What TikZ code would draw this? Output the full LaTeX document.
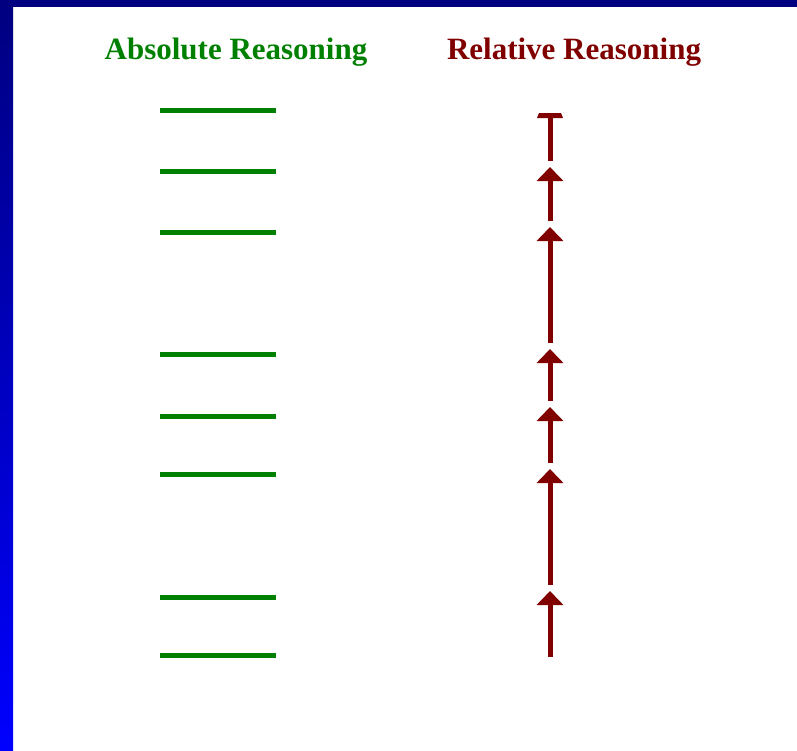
\documentclass[tikz,border=0pt]{standalone}
\usepackage{fontspec}
\setmainfont{Liberation Serif}
\usetikzlibrary{arrows.meta}
\definecolor{absgreen}{RGB}{0,128,0}
\definecolor{reldred}{RGB}{128,0,0}
\definecolor{navyband}{RGB}{0,0,128}
\definecolor{blueband}{RGB}{0,0,255}
\begin{document}
\begin{tikzpicture}[x=1pt,y=-1pt,
  title/.style={font=\fontsize{31}{36}\selectfont\bfseries, inner sep=0pt, anchor=base},
  level/.style={draw=absgreen, line width=5pt},
  stepup/.style={draw=reldred, line width=5pt, -{Triangle[width=26pt,length=14pt]}},
]
\useasboundingbox (0,0) rectangle (797,750);
% slide frame
\fill[white] (0,0) rectangle (797,750);
\shade[top color=navyband, bottom color=blueband] (0,0) rectangle (13,750);
\fill[navyband] (0,0) rectangle (797,7);

% headings
\node[title, text=absgreen] (abs) at (236,59) {Absolute Reasoning};
\node[title, text=reldred] (rel) at (574,59) {Relative Reasoning};

% absolute levels
\foreach \y in {110,171,232,354,416,474,597,655}
  \draw[level] (160,\y) -- (276,\y);

% relative steps
\foreach \n/\a/\b in {1/657/591, 2/585/469, 3/463/407, 4/401/349, 5/343/227, 6/221/167}{
  \coordinate (s\n) at (550,\a);
  \coordinate (t\n) at (550,\b);
  \draw[stepup] (s\n) -- (t\n);
}
\coordinate (s7) at (550,161);
\coordinate (t7) at (550,117);
\draw[draw=reldred, line width=5pt] (s7) -- (t7);
\fill[reldred] (537,118) -- (563,118) -- (561,113) -- (539,113) -- cycle;
\end{tikzpicture}
\end{document}
